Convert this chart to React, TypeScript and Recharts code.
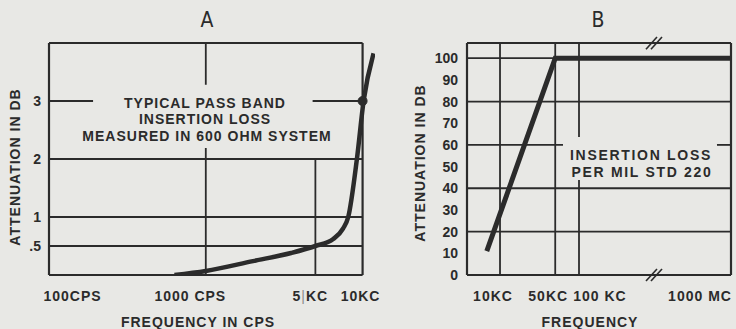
import React from 'react';
import { LineChart, Line, XAxis, YAxis, ReferenceLine, ReferenceDot } from 'recharts';

// ---------- Chart A: typical pass band insertion loss ----------
const aFreqHz = [631, 1000, 2000, 3500, 5000, 6500, 7500, 8100, 9200, 10150, 11750];
const aAttenDb = [0, 0.07, 0.24, 0.38, 0.5, 0.62, 0.8, 1.0, 2.0, 3.0, 3.82];
const aXTicks = [100, 1000, 5000, 10000];
const aXTickLabels = ['100CPS', '1000 CPS', '5|KC', '10KC'];
const aYTicks = [0.5, 1, 2, 3];
const aYTickLabels = ['.5', '1', '2', '3'];
const aMarkerFreq = 10000;
const aMarkerDb = 3;

// ---------- Chart B: insertion loss per MIL STD 220 ----------
const bFreqKC = [6.8, 50, 1000000];
const bAttenDb = [11, 100, 100];
const bXTicks = [10, 50, 100, 1000000];
const bXTickLabels = ['10KC', '50KC', '100 KC', '1000 MC'];
const bYTicks = [0, 10, 20, 30, 40, 50, 60, 70, 80, 90, 100];

// broken axis in B: frequencies past the "//" break sit at the axis end
const B_BREAK_KC = 1000;
const B_AXIS_START_KC = 3.82;
const B_AXIS_END_KC = 8400;
const toAxisB = (kc: number) => (kc > B_BREAK_KC ? B_AXIS_END_KC : kc);

const INK = '#2b2b2b';
const BG = '#e8e8e5';
const FONT = '"Liberation Sans", Arial, sans-serif';
const GRID_W = 1.8;
const FRAME_W = 2.2;

const aData = aFreqHz.map((f, i) => ({ f, v: aAttenDb[i] }));
const bData = bFreqKC.map((f, i) => ({ f: toAxisB(f), v: bAttenDb[i] }));

const aTickDx: Record<string, number> = { '100CPS': 23.5, '1000 CPS': -15.5, '5|KC': -5, '10KC': -2 };
const bTickDx: Record<string, number> = { '10KC': -7, '50KC': -7, '100 KC': 21, '1000 MC': -31 };

const tickTextStyle = { fontFamily: FONT, fontSize: 14, fontWeight: 700 as const, letterSpacing: 1 };

const ATick = (props: any) => {
  const { x, y, payload } = props;
  const label = aXTickLabels[aXTicks.indexOf(payload.value)];
  const dx = aTickDx[label] ?? 0;
  if (label === '5|KC') {
    return (
      <text x={x + dx} y={y + 26} textAnchor="middle" fill={INK} style={tickTextStyle}>
        5<tspan fill="#8a8a8a" fontWeight={400}>|</tspan>KC
      </text>
    );
  }
  return (
    <text x={x + dx} y={y + 26} textAnchor="middle" fill={INK} style={tickTextStyle}>
      {label}
    </text>
  );
};

const BTick = (props: any) => {
  const { x, y, payload } = props;
  const idx = bXTicks.map(toAxisB).indexOf(payload.value);
  const label = bXTickLabels[idx];
  const dx = bTickDx[label] ?? 0;
  return (
    <text x={x + dx} y={y + 26} textAnchor="middle" fill={INK} style={tickTextStyle}>
      {label}
    </text>
  );
};

const seg = (x1: number, y1: number, x2: number, y2: number, w = GRID_W, key?: string) => (
  <ReferenceLine
    key={key ?? `${x1}-${y1}-${x2}-${y2}`}
    segment={[{ x: x1, y: y1 }, { x: x2, y: y2 }]}
    stroke={INK}
    strokeWidth={w}
    ifOverflow="visible"
  />
);

const Txt = ({ x, y, children, size = 14, weight = 700, spacing = 1, rotate = 0, family = FONT }: any) => (
  <div
    style={{
      position: 'absolute',
      left: x,
      top: y,
      transform: `translate(-50%, -50%) rotate(${rotate}deg)`,
      whiteSpace: 'nowrap',
      fontFamily: family,
      fontSize: size,
      fontWeight: weight,
      letterSpacing: spacing,
      lineHeight: 1,
      color: INK,
    }}
  >
    {children}
  </div>
);

export default function App() {
  const A_X0 = 100;
  const A_X1 = 10000;
  const A_TOP = 4;
  const B_TOP = 107;
  return (
    <div style={{ position: 'absolute', left: 0, top: 0, width: 736, height: 329, background: BG, overflow: 'hidden' }}>
      <div style={{ position: 'absolute', left: 0, top: 0 }}>
        <LineChart width={392} height={329} data={aData} margin={{ top: 43, right: 17, left: 0, bottom: 0 }}>
          <XAxis
            type="number"
            dataKey="f"
            scale="log"
            domain={[100, 12000]}
            allowDataOverflow
            ticks={aXTicks}
            interval={0}
            tick={(p: any) => <ATick {...p} />}
            axisLine={false}
            tickLine={false}
            tickSize={0}
            tickMargin={0}
            height={54}
          />
          <YAxis
            type="number"
            domain={[0, A_TOP]}
            allowDataOverflow
            ticks={aYTicks}
            interval={0}
            tickFormatter={(v: number) => aYTickLabels[aYTicks.indexOf(v)]}
            tick={{ fill: INK, fontFamily: FONT, fontSize: 14, fontWeight: 700 }}
            axisLine={false}
            tickLine={false}
            tickSize={0}
            tickMargin={8}
            width={49}
          />
          {/* frame */}
          {seg(A_X0, 0, A_X0, A_TOP, FRAME_W, 'fl')}
          {seg(A_X1, 0, A_X1, A_TOP, FRAME_W, 'fr')}
          {seg(A_X0, 0, A_X1, 0, FRAME_W, 'fb')}
          {seg(A_X0, A_TOP, A_X1, A_TOP, FRAME_W, 'ft')}
          {/* grid */}
          {seg(A_X0, 0.5, A_X1, 0.5)}
          {seg(A_X0, 1, A_X1, 1)}
          {seg(A_X0, 2, A_X1, 2)}
          {seg(A_X0, 3, 191, 3)}
          {seg(4800, 3, A_X1, 3)}
          {seg(1000, 3.28, 1000, A_TOP)}
          {seg(1000, 0, 1000, 2.19)}
          {seg(5000, 0, 5000, 2)}
          <Line
            type="monotone"
            dataKey="v"
            stroke={INK}
            strokeWidth={4.5}
            dot={false}
            isAnimationActive={false}
          />
          <ReferenceDot x={aMarkerFreq} y={aMarkerDb} r={4.5} fill={INK} stroke={INK} ifOverflow="visible" />
        </LineChart>
      </div>

      <div style={{ position: 'absolute', left: 380, top: 0 }}>
        <LineChart width={356} height={329} data={bData} margin={{ top: 43, right: 5, left: 0, bottom: 0 }}>
          <XAxis
            type="number"
            dataKey="f"
            scale="log"
            domain={[B_AXIS_START_KC, B_AXIS_END_KC]}
            allowDataOverflow
            ticks={bXTicks.map(toAxisB)}
            interval={0}
            tick={(p: any) => <BTick {...p} />}
            axisLine={false}
            tickLine={false}
            tickSize={0}
            tickMargin={0}
            height={54}
          />
          <YAxis
            type="number"
            domain={[0, B_TOP]}
            allowDataOverflow
            ticks={bYTicks}
            interval={0}
            tick={{ fill: INK, fontFamily: FONT, fontSize: 14, fontWeight: 700 }}
            axisLine={false}
            tickLine={false}
            tickSize={0}
            tickMargin={9}
            width={87}
          />
          {/* frame */}
          {seg(B_AXIS_START_KC, 0, B_AXIS_START_KC, B_TOP, FRAME_W, 'bl')}
          {seg(B_AXIS_END_KC, 0, B_AXIS_END_KC, B_TOP, FRAME_W, 'br')}
          {seg(B_AXIS_START_KC, 0, B_AXIS_END_KC, 0, FRAME_W, 'bb')}
          {seg(B_AXIS_START_KC, B_TOP, B_AXIS_END_KC, B_TOP, FRAME_W, 'bt')}
          {/* grid */}
          {seg(B_AXIS_START_KC, 20, B_AXIS_END_KC, 20)}
          {seg(B_AXIS_START_KC, 40, B_AXIS_END_KC, 40)}
          {seg(B_AXIS_START_KC, 60, 62.7, 60)}
          {seg(5580, 60, B_AXIS_END_KC, 60)}
          {seg(B_AXIS_START_KC, 80, B_AXIS_END_KC, 80)}
          {seg(B_AXIS_START_KC, 100, B_AXIS_END_KC, 100)}
          {seg(10, 0, 10, B_TOP)}
          {seg(50, 0, 50, B_TOP)}
          {seg(100, 63.6, 100, B_TOP)}
          {seg(100, 0, 100, 43.8)}
          {/* axis break marks "//" */}
          {seg(705, 104.1, 971, 109.8, 1.6, 'k1')}
          {seg(815, 104.1, 1124, 109.8, 1.6, 'k2')}
          {seg(705, -2.8, 971, 2.8, 1.6, 'k3')}
          {seg(815, -2.8, 1124, 2.8, 1.6, 'k4')}
          <Line
            type="linear"
            dataKey="v"
            stroke={INK}
            strokeWidth={5}
            dot={false}
            isAnimationActive={false}
          />
        </LineChart>
      </div>

      {/* titles and annotations */}
      <Txt x={207} y={20} size={21} weight={400} spacing={0} family={'"Liberation Sans Narrow", "DejaVu Sans Condensed", sans-serif'}>A</Txt>
      <Txt x={598} y={20} size={21} weight={400} spacing={0} family={'"Liberation Sans Narrow", "DejaVu Sans Condensed", sans-serif'}>B</Txt>
      <Txt x={15} y={167} rotate={-90}>ATTENUATION IN DB</Txt>
      <Txt x={420} y={163} rotate={-90}>ATTENUATION IN DB</Txt>
      <Txt x={198} y={322}>FREQUENCY IN CPS</Txt>
      <Txt x={590} y={322}>FREQUENCY</Txt>
      <Txt x={205} y={103}>TYPICAL PASS BAND</Txt>
      <Txt x={205} y={119}>INSERTION LOSS</Txt>
      <Txt x={207} y={136}>MEASURED IN 600 OHM SYSTEM</Txt>
      <Txt x={641} y={155} spacing={1.7}>INSERTION LOSS</Txt>
      <Txt x={642} y={172} spacing={1.7}>PER MIL STD 220</Txt>
    </div>
  );
}
